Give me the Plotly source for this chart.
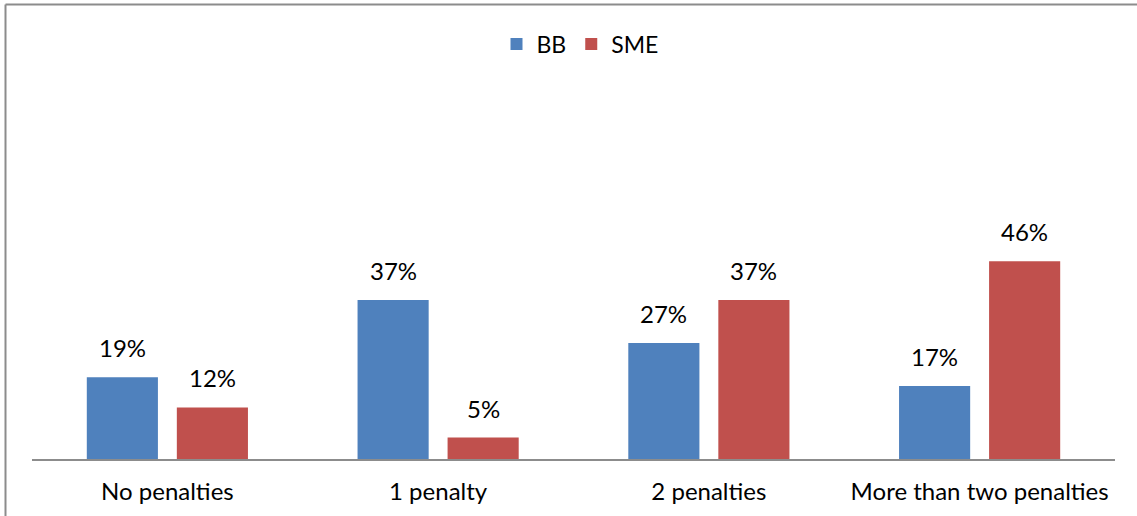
import plotly.graph_objects as go

categories = ["No penalties", "1 penalty", "2 penalties", "More than two penalties"]
bb_values = [0.19, 0.37, 0.27, 0.17]
sme_values = [0.12, 0.05, 0.37, 0.46]
series_names = ["BB", "SME"]
colors = ["#4F81BD", "#C0504D"]

W, H = 1137, 516
L, R, T, B = 32, 22, 29, 57
FONT = "Lato"
FS = 24

fig = go.Figure()
for name, vals, col in zip(series_names, [bb_values, sme_values], colors):
    fig.add_trace(go.Bar(name=name, x=categories, y=vals, marker_color=col,
                         marker_line_width=0))

annotations = []
for vals, shift in [(bb_values, -45), (sme_values, 45)]:
    for c, v in zip(categories, vals):
        annotations.append(dict(x=c, y=v, xref="x", yref="y", text=f"{round(v*100)}%",
                                showarrow=False, xshift=shift, yanchor="bottom", yshift=13,
                                font=dict(family=FONT, size=FS, color="#000000")))

pw = W - L - R
ph = H - T - B
shapes = [
    dict(type="line", xref="paper", yref="paper", x0=(5.5 - L) / pw, x1=(W - L) / pw + 0.01,
         y0=(H - B - 4.5) / ph, y1=(H - B - 4.5) / ph, line=dict(color="#8c8c8c", width=2)),
    dict(type="line", xref="paper", yref="paper", x0=(5.5 - L) / pw, x1=(5.5 - L) / pw,
         y0=(H - B - 4.5) / ph, y1=(H - B - W) / ph, line=dict(color="#8c8c8c", width=2)),
]

fig.update_layout(
    width=W, height=H,
    margin=dict(l=L, r=R, t=T, b=B, pad=0, autoexpand=False),
    plot_bgcolor="white", paper_bgcolor="white",
    barmode="group", bargap=0.335, bargroupgap=0.21,
    font=dict(family=FONT, size=FS, color="#000000"),
    legend=dict(orientation="h", x=0.506, xanchor="center", y=(H - B - 44) / ph, yanchor="middle",
                font=dict(family=FONT, size=23), itemwidth=30, traceorder="normal"),
    annotations=annotations,
    shapes=shapes,
    xaxis=dict(showline=True, linecolor="#8c8c8c", linewidth=2, ticks="", showgrid=False,
               automargin=False,
               tickfont=dict(family=FONT, size=FS), ticklabelstandoff=10),
    yaxis=dict(range=[0, 1], visible=False, showgrid=False, zeroline=False, automargin=False),
    showlegend=True,
)

fig.write_html("out.html")
